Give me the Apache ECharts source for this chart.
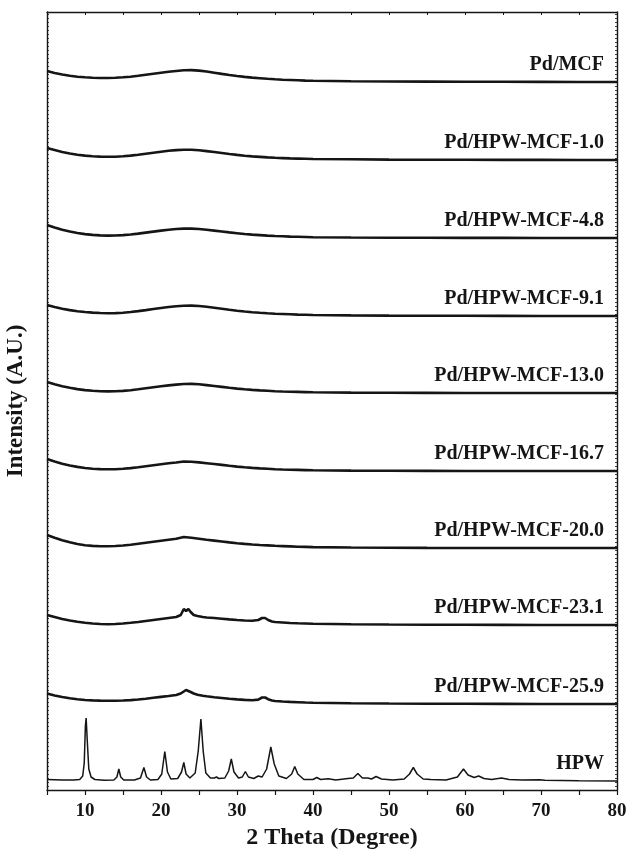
<!DOCTYPE html>
<html>
<head>
<meta charset="utf-8">
<script src="https://cdn.jsdelivr.net/npm/echarts@6/dist/echarts.min.js"></script>
<style>
html,body{margin:0;padding:0;background:#fff;}
#chart{width:628px;height:851px;}
</style>
</head>
<body>
<div id="chart"></div>
<script>
// ---------- data ----------
const SAMPLE_NAMES = ["Pd/MCF","Pd/HPW-MCF-1.0","Pd/HPW-MCF-4.8","Pd/HPW-MCF-9.1","Pd/HPW-MCF-13.0","Pd/HPW-MCF-16.7","Pd/HPW-MCF-20.0","Pd/HPW-MCF-23.1","Pd/HPW-MCF-25.9","HPW"];
// vertical stacking offsets (a.u.)
const OFFSETS = [708,630,552,474,397,319,242,165,86,9];

const GRID_A = [5,6,7,8,9,10,11,12,13,14,15,16,17,18,19,20,21,22,23,24,25,26,27,28,29,30,31,32,33,34,35,36,37,38,39,40,45,50,55,60,65,70,75,80];
const Y_MCF   = [11,9,7.5,6.2,5.3,4.7,4.3,4,4,4.2,4.7,5.3,6.2,7.2,8.2,9.2,10.2,11,11.8,11.9,11.4,10.5,9.3,8.1,7,6,5.1,4.4,3.8,3.2,2.7,2.3,2,1.7,1.4,1.2,0.8,0.5,0.4,0.3,0.2,0.1,0,0];
const Y_1_0   = [12,10,8,6.5,5.3,4.4,3.8,3.4,3.2,3.3,3.7,4.4,5.3,6.3,7.3,8.3,9.2,9.9,10.3,10.2,9.7,8.9,8,7,6,5.1,4.3,3.6,3.1,2.6,2.2,1.9,1.6,1.4,1.2,1,0.7,0.4,0.3,0.2,0.1,0.1,0,0];
const Y_4_8   = [13,10.5,8.3,6.5,5,3.9,3.1,2.6,2.4,2.5,2.9,3.5,4.4,5.4,6.4,7.4,8.3,9,9.4,9.4,9,8.3,7.4,6.5,5.6,4.8,4,3.4,2.9,2.4,2,1.7,1.4,1.2,1,0.8,0.5,0.3,0.2,0.1,0.1,0,0,0];
const Y_9_1   = [11,9,7.3,5.9,4.8,4,3.4,3,2.8,2.9,3.3,4,4.9,5.9,7,8,9,9.8,10.3,10.4,10,9.2,8.2,7.2,6.2,5.3,4.5,3.8,3.2,2.7,2.3,2,1.7,1.4,1.2,1,0.6,0.4,0.3,0.2,0.1,0,0,0];
const Y_13_0  = [11,8.8,6.8,5.2,3.9,2.9,2.2,1.8,1.6,1.7,2.1,2.8,3.7,4.7,5.7,6.7,7.6,8.4,9,9.1,8.7,7.9,7,6.1,5.2,4.4,3.7,3.1,2.6,2.2,1.8,1.5,1.3,1.1,0.9,0.7,0.4,0.2,0.1,0,0,0,0,0];
const Y_16_7  = [12,9.5,7.3,5.5,4.1,3,2.3,1.9,1.7,1.8,2.2,2.9,3.8,4.8,5.8,6.8,7.7,8.5,9.5,9.3,8.6,7.8,7,6.1,5.2,4.4,3.7,3.1,2.6,2.2,1.8,1.5,1.3,1.1,0.9,0.7,0.4,0.2,0.1,0,0,0,0,0];
const Y_20_0  = [13,10.3,7.8,5.7,4,2.8,2.1,1.8,1.8,2,2.5,3.3,4.3,5.3,6.3,7.3,8.3,9.3,11,10.3,9.3,8.3,7.4,6.5,5.6,4.8,4.1,3.5,3,2.6,2.2,1.9,1.6,1.3,1.1,0.9,0.5,0.3,0.1,0,0,0,0,0];

const GRID_B = [5,6,7,8,9,10,11,12,13,14,15,16,17,18,19,20,21,22,22.6,23.0,23.3,23.6,23.9,24.3,24.8,25.5,26,27,28,29,30,31,32,32.8,33.3,33.7,34.1,34.6,35,36,37,38,39,40,45,50,55,60,65,70,75,80];
const Y_23_1  = [10,8,6,4.5,3.2,2.2,1.5,1,0.8,1,1.5,2.2,3,4,5,6,7,8,10,16,14,16,13,10,9,8,7.5,7,6.3,5.6,5,4.5,4.2,5,7,7,5,3.5,3,2.5,2,1.7,1.5,1.3,0.8,0.5,0.3,0.2,0.1,0,0,0];
const Y_25_9  = [10.5,8.5,7,5.7,4.7,4,3.6,3.4,3.3,3.3,3.5,3.9,4.5,5.3,6.2,7.1,8,9,10.5,12.5,14,13,12,10.5,9.3,8.3,7.7,6.8,6,5.2,4.6,4.1,3.8,4.4,6.5,6.5,4.8,3.5,3,2.5,2.1,1.8,1.5,1.3,0.8,0.5,0.3,0.2,0.1,0,0,0];

const HPW_X = [5,7,8.5,9.3,9.7,9.9,10.05,10.15,10.3,10.5,10.8,11.3,12.5,13.8,14.2,14.45,14.7,15.1,16.5,17.3,17.75,18.1,18.6,19.6,20.1,20.5,20.85,21.3,22.2,22.7,23.0,23.3,23.8,24.5,24.9,25.25,25.55,25.9,26.5,27.0,27.3,27.6,28.4,28.9,29.25,29.6,30.2,30.7,31.1,31.5,32.2,32.8,33.3,33.9,34.45,34.9,35.5,36.5,37.2,37.6,38.0,38.8,40.0,40.5,41,42,43,44.6,45.3,45.9,46.5,47.2,47.7,48.3,49,50.5,52.0,52.7,53.2,53.7,54.5,55.5,57.5,59,59.8,60.4,61.2,61.8,62.5,63.5,64.8,65.8,67.5,69.8,70.5,75,80];
const HPW_Y = [1.5,1,1,1.5,5,18,55,63,40,12,4,1.5,0.8,1,4,12,4,1,1,3,13.5,4,1,1.5,7,29.5,9,2,2.5,9,18.5,7,3,8,30,62,30,8,3,3,4,2.5,3,10,22,9,3,4,9.5,4,2.5,5,4,12,34,17,5,2.5,7,14.5,7,1.5,1.5,3.5,1.5,2.2,1,2.5,3,7.5,3,3,2,4.5,2,1,2,7,13.5,7,2,1.5,1,4,12,6,3.5,5,2.5,1.5,3,1.5,1,1.3,0.7,0.3,0];

const X_TICKS = [10,20,30,40,50,60,70,80];

const SERIES_X = [GRID_A,GRID_A,GRID_A,GRID_A,GRID_A,GRID_A,GRID_A,GRID_B,GRID_B,HPW_X];
const SERIES_Y = [Y_MCF,Y_1_0,Y_4_8,Y_9_1,Y_13_0,Y_16_7,Y_20_0,Y_23_1,Y_25_9,HPW_Y];

// ---------- chart ----------
const FONT = '"Liberation Serif","Times New Roman",serif';
const INK = '#151515';
const chart = echarts.init(document.getElementById('chart'), null, {renderer:'canvas'});

const series = SAMPLE_NAMES.map((name,i)=>({
  name: name,
  type: 'line',
  xAxisIndex: 0, yAxisIndex: 0,
  showSymbol: false,
  smooth: false,
  silent: true,
  animation: false,
  lineStyle: {color: INK, width: i === 9 ? 1.5 : 2.6},
  data: SERIES_X[i].map((x,k)=>[x, OFFSETS[i] + SERIES_Y[i][k]])
}));

const xCommon = {
  type:'value', min:5, max:80, interval:5,
  axisLine:{show:true, onZero:false, lineStyle:{color:INK, width:1.4}},
  splitLine:{show:false}
};
const yCommon = {
  type:'value', min:0, max:778, interval:4,
  axisLine:{show:true, lineStyle:{color:INK, width:1.4}},
  axisLabel:{show:false},
  splitLine:{show:false}
};

chart.setOption({
  animation:false,
  backgroundColor:'#fff',
  grid:{left:47, right:11, top:12, bottom:61, containLabel:false, outerBoundsMode:'none'},
  xAxis:[
    Object.assign({}, xCommon, {
      position:'bottom',
      name:'2 Theta (Degree)', nameLocation:'middle', nameGap:35,
      nameTextStyle:{fontFamily:FONT, fontWeight:'bold', fontSize:24, color:INK},
      axisTick:{show:true, inside:false, length:5, lineStyle:{color:INK, width:1.2}},
      axisLabel:{show:true, margin:12, fontFamily:FONT, fontWeight:'bold', fontSize:19, color:INK,
        formatter:(v)=> X_TICKS.indexOf(v) >= 0 ? String(v) : ''}
    }),
    Object.assign({}, xCommon, {
      position:'top',
      axisTick:{show:true, inside:true, length:3, lineStyle:{color:INK, width:1}},
      axisLabel:{show:false}
    })
  ],
  yAxis:[
    Object.assign({}, yCommon, {
      position:'left',
      name:'Intensity (A.U.)', nameLocation:'middle', nameGap:19, nameRotate:90,
      nameTextStyle:{fontFamily:FONT, fontWeight:'bold', fontSize:23, color:INK},
      axisTick:{show:true, inside:true, length:2, lineStyle:{color:INK, width:0.8}}
    }),
    Object.assign({}, yCommon, {
      position:'right',
      axisTick:{show:true, inside:true, length:2, lineStyle:{color:INK, width:0.8}}
    })
  ],
  series: series
});

// sample labels, placed relative to each pattern's offset
const labelEls = SAMPLE_NAMES.map((name,i)=>{
  const p = chart.convertToPixel({xAxisIndex:0, yAxisIndex:0}, [80, OFFSETS[i]]);
  return {
    type:'text', silent:true,
    x: 604, y: p[1] - 17,
    style:{text:name, fill:INK, font:'bold 20px ' + FONT, align:'right', verticalAlign:'middle'}
  };
});
chart.setOption({graphic:{elements:labelEls}});
</script>
</body>
</html>
